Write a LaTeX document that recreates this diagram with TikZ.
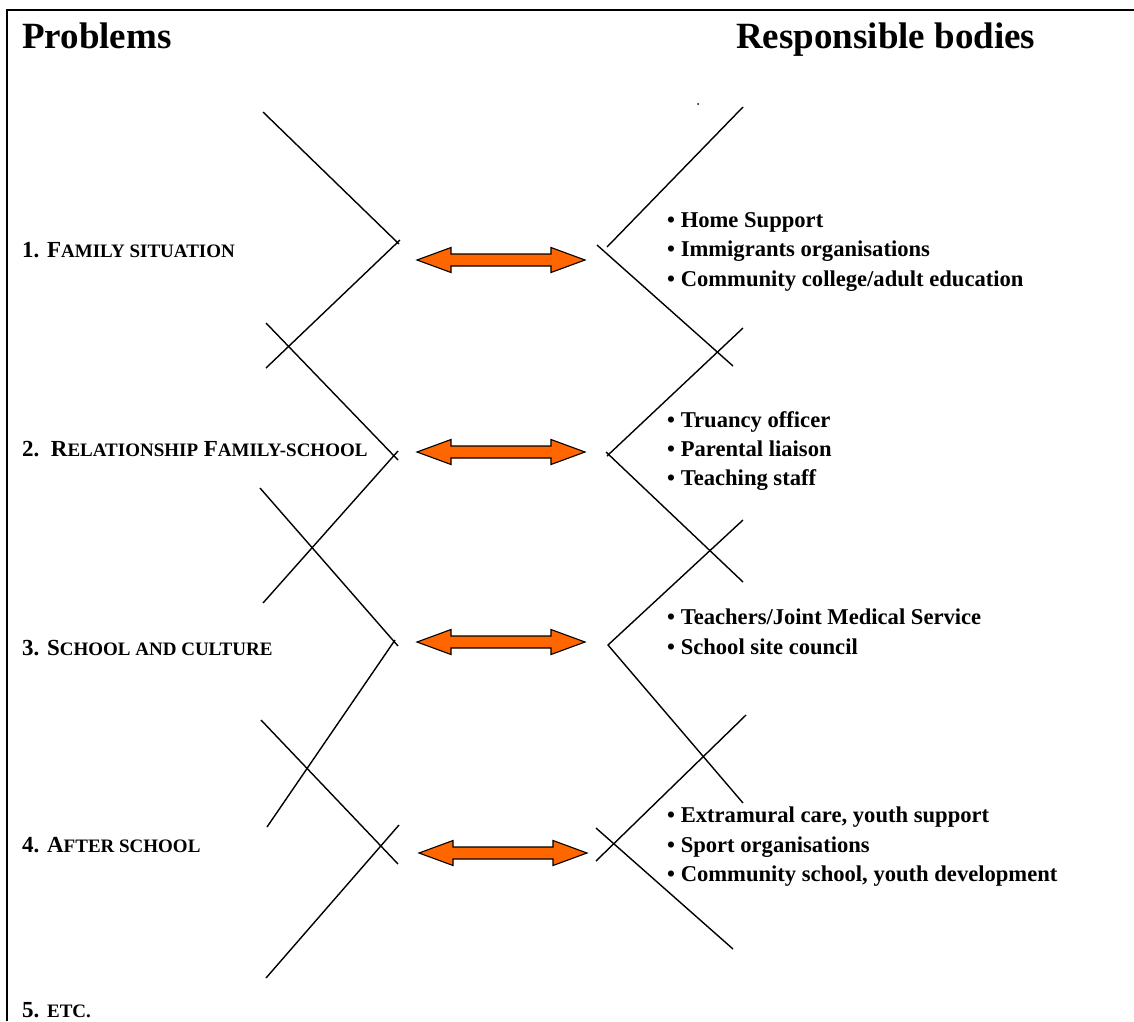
\documentclass[tikz,border=0pt]{standalone}
\usepackage{fontspec}
\setmainfont{Liberation Serif}
\definecolor{arroworange}{HTML}{FF6600}
\newcommand\lsc[1]{{\fontsize{19}{20}\selectfont #1}}
% block arrow between a problem and its bodies (left tip x, y)
\newcommand\bodyarrow[2]{%
	\draw[linkarrow] (#1,#2) -- ++(34,-12.5) -- ++(0,6.5) -- ++(100,0) -- ++(0,-6.5) -- ++(34,12.5)
		-- ++(-34,12.5) -- ++(0,-6.5) -- ++(-100,0) -- ++(0,6.5) -- cycle;}
\tikzset{
	rib/.style = {line width = 1.4pt},
	heading/.style = {anchor = base west, inner sep = 0pt, font = \fontsize{37}{40}\selectfont\bfseries},
	probitem/.style = {anchor = base west, inner sep = 0pt, font = \fontsize{23}{26}\selectfont\bfseries},
	bodyitem/.style = {anchor = base west, inner sep = 0pt, font = \fontsize{22.6}{26}\selectfont\bfseries},
	linkarrow/.style = {fill = arroworange, draw = black, line width = 1.1pt, line join = miter},
}
\begin{document}
\begin{tikzpicture}[x = 1pt, y = -1pt]
	\useasboundingbox (0, 0) rectangle (1134, 1021);
	\draw[line width = 2pt] (7, 1021) -- (7, 10) -- (1134, 10);

	\node[heading] (problems) at (22, 48) {Problems};
	\node[heading] (bodies) at (736, 48) {Responsible bodies};

	\node[probitem] (p1) at (22, 257) {1. F\lsc{AMILY SITUATION}};
	\node[probitem] (p2) at (22, 456) {2.~~R\lsc{ELATIONSHIP} F\lsc{AMILY-SCHOOL}};
	\node[probitem] (p3) at (22, 655) {3. S\lsc{CHOOL AND CULTURE}};
	\node[probitem] (p4) at (22, 852) {4. A\lsc{FTER SCHOOL}};
	\node[probitem] (p5) at (22, 1017) {5. \lsc{ETC.}};

	% zigzag on the problems side
	\draw[rib] (263, 112) -- (399, 244);
	\draw[rib] (400, 240) -- (266, 368);
	\draw[rib] (266, 323) -- (398, 460);
	\draw[rib] (398, 451) -- (263, 603);
	\draw[rib] (260, 488) -- (398, 646);
	\draw[rib] (395, 640) -- (267, 827);
	\draw[rib] (261, 720) -- (398, 864);
	\draw[rib] (399, 825) -- (266, 978);

	% zigzag on the bodies side
	\draw[rib] (607, 247) -- (743, 107);
	\draw[rib] (597, 245) -- (733, 366);
	\draw[rib] (743, 328) -- (607, 456);
	\draw[rib] (606, 452) -- (743, 582);
	\draw[rib] (743, 520) -- (608, 645) -- (743, 803);
	\draw[rib] (746, 715) -- (596, 861);
	\draw[rib] (596, 828) -- (733, 949);
	\fill (698, 104) circle (1pt);

	\bodyarrow{417}{260}
	\bodyarrow{417}{452}
	\bodyarrow{417}{642}
	\bodyarrow{419}{853}

	\node[bodyitem] (b11) at (667, 227) {• Home Support};
	\node[bodyitem] (b12) at (667, 256) {• Immigrants organisations};
	\node[bodyitem] (b13) at (667, 286) {• Community college/adult education};

	\node[bodyitem] (b21) at (667, 427) {• Truancy officer};
	\node[bodyitem] (b22) at (667, 456) {• Parental liaison};
	\node[bodyitem] (b23) at (667, 485) {• Teaching staff};

	\node[bodyitem] (b31) at (667, 624) {• Teachers/Joint Medical Service};
	\node[bodyitem] (b32) at (667, 654) {• School site council};

	\node[bodyitem] (b41) at (667, 822) {• Extramural care, youth support};
	\node[bodyitem] (b42) at (667, 852) {• Sport organisations};
	\node[bodyitem] (b43) at (667, 881) {• Community school, youth development};
\end{tikzpicture}
\end{document}
